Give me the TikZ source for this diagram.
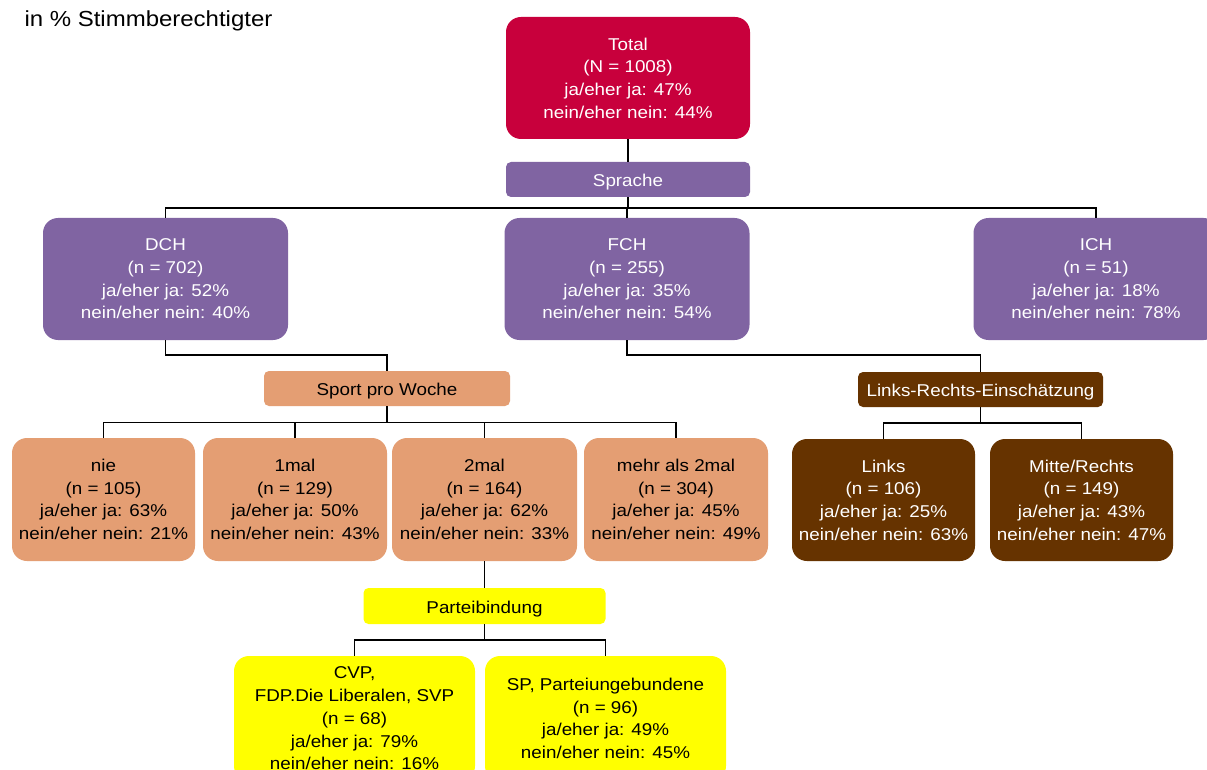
\documentclass[tikz,border=0pt]{standalone}
\usepackage{fontspec}
\setmainfont{Liberation Sans}[FakeStretch=1.1]
\definecolor{cRed}{RGB}{200,0,60}
\definecolor{cPurple}{RGB}{128,100,162}
\definecolor{cTan}{RGB}{228,158,115}
\definecolor{cBrown}{RGB}{102,51,0}
\definecolor{cYellow}{RGB}{255,255,0}
\newcommand\boxfont{\fontsize{17.1}{22.7}\selectfont}
\tikzset{
  bigbox/.style={rectangle, rounded corners=15pt, inner sep=0pt, align=center, font=\boxfont,
    execute at begin node={\rule{0pt}{19.5pt}}},
  labelbox/.style={rectangle, rounded corners=5pt, inner sep=0pt, align=center, font=\boxfont,
    execute at begin node={\rule{0pt}{18pt}}},
  conn/.style={draw=black, line width=1.3pt},
}
\begin{document}
\begin{tikzpicture}[x=1pt,y=-1pt]
\clip (0,0) rectangle (1207,770);
\fill[white] (0,0) rectangle (1207,770);

\node[anchor=base west, font=\fontsize{21.8}{26}\selectfont] (title) at (21,27) {in \% Stimmberechtigter};

% level 0
\node[bigbox, fill=cRed, text=white, minimum width=244pt, minimum height=122pt] (total) at (628,78)
  {Total\\(N = 1008)\\ja/eher ja: 47\%\\nein/eher nein: 44\%};
\node[labelbox, fill=cPurple, text=white, minimum width=244pt, minimum height=35pt] (sprache) at (628,179.5) {Sprache};

% level 1
\node[bigbox, fill=cPurple, text=white, minimum width=245pt, minimum height=122pt] (dch) at (165.5,279)
  {DCH\\(n = 702)\\ja/eher ja: 52\%\\nein/eher nein: 40\%};
\node[bigbox, fill=cPurple, text=white, minimum width=245pt, minimum height=122pt] (fch) at (627,279)
  {FCH\\(n = 255)\\ja/eher ja: 35\%\\nein/eher nein: 54\%};
\node[bigbox, fill=cPurple, text=white, minimum width=245pt, minimum height=122pt] (ich) at (1096,279)
  {ICH\\(n = 51)\\ja/eher ja: 18\%\\nein/eher nein: 78\%};

% level 2 labels
\node[labelbox, fill=cTan, text=black, minimum width=246pt, minimum height=35pt] (sport) at (387,388.5) {Sport pro Woche};
\node[labelbox, fill=cBrown, text=white, minimum width=245pt, minimum height=35pt] (lr) at (980.5,389.5) {Links-Rechts-Einschätzung};

% level 2 boxes
\node[bigbox, fill=cTan, text=black, minimum width=183pt, minimum height=123pt] (nie) at (103.5,499.5)
  {nie\\(n = 105)\\ja/eher ja: 63\%\\nein/eher nein: 21\%};
\node[bigbox, fill=cTan, text=black, minimum width=184pt, minimum height=123pt] (einmal) at (295,499.5)
  {1mal\\(n = 129)\\ja/eher ja: 50\%\\nein/eher nein: 43\%};
\node[bigbox, fill=cTan, text=black, minimum width=185pt, minimum height=123pt] (zweimal) at (484.5,499.5)
  {2mal\\(n = 164)\\ja/eher ja: 62\%\\nein/eher nein: 33\%};
\node[bigbox, fill=cTan, text=black, minimum width=184pt, minimum height=123pt] (mehr) at (676,499.5)
  {mehr als 2mal\\(n = 304)\\ja/eher ja: 45\%\\nein/eher nein: 49\%};
\node[bigbox, fill=cBrown, text=white, minimum width=183pt, minimum height=122pt] (links) at (883.5,500)
  {Links\\(n = 106)\\ja/eher ja: 25\%\\nein/eher nein: 63\%};
\node[bigbox, fill=cBrown, text=white, minimum width=183pt, minimum height=122pt] (mitte) at (1081.5,500)
  {Mitte/Rechts\\(n = 149)\\ja/eher ja: 43\%\\nein/eher nein: 47\%};

% level 3
\node[labelbox, fill=cYellow, text=black, minimum width=242pt, minimum height=36pt] (partei) at (484.5,606) {Parteibindung};
\node[bigbox, fill=cYellow, text=black, minimum width=241pt, minimum height=125pt] (cvp) at (354.5,718.5)
  {CVP,\\FDP.Die Liberalen, SVP\\(n = 68)\\ja/eher ja: 79\%\\nein/eher nein: 16\%};
\node[bigbox, fill=cYellow, text=black, minimum width=241pt, minimum height=125pt] (sp) at (605.5,718.5)
  {SP, Parteiungebundene\\(n = 96)\\ja/eher ja: 49\%\\nein/eher nein: 45\%};

% bus coordinates
\coordinate (b1) at (628,208);
\coordinate (b2) at (387,355);
\coordinate (b3) at (387,422.5);
\coordinate (b4) at (980.5,355);
\coordinate (b5) at (980.5,423);
\coordinate (b6) at (484.5,640);

% connectors
\draw[conn] (total.south) -- (sprache.north);
\draw[conn] (sprache.south) -- (b1);
\draw[conn] (dch.north) |- (b1) -| (ich.north);
\draw[conn] (fch.north) -- (fch.north |- b1);

\draw[conn] (dch.south) |- (b2) -- (sport.north);
\draw[conn] (sport.south) -- (b3);
\draw[conn] (nie.north) |- (b3) -| (mehr.north);
\draw[conn] (einmal.north) -- (einmal.north |- b3);
\draw[conn] (zweimal.north) -- (zweimal.north |- b3);

\draw[conn] (fch.south) |- (b4) -- (lr.north);
\draw[conn] (lr.south) -- (b5);
\draw[conn] (links.north) |- (b5) -| (mitte.north);

\draw[conn] (zweimal.south) -- (partei.north);
\draw[conn] (partei.south) -- (b6);
\draw[conn] (cvp.north) |- (b6) -| (sp.north);
\end{tikzpicture}
\end{document}
